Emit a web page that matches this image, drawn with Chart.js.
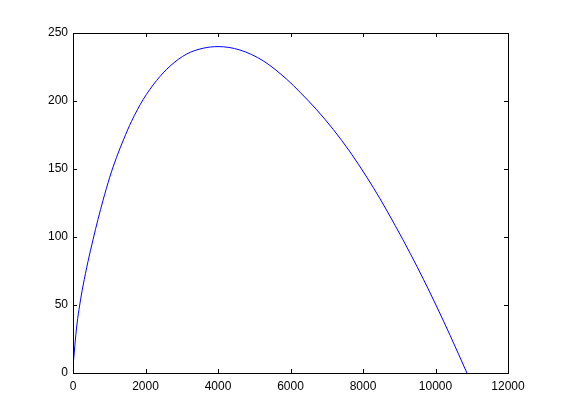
<!DOCTYPE html>
<html>
<head>
<meta charset="utf-8">
<script src="https://cdn.jsdelivr.net/npm/chart.js@4"></script>
<style>
  html, body { margin: 0; padding: 0; background: #fff; }
  #wrap { width: 561px; height: 420px; }
</style>
</head>
<body>
<div id="wrap"><canvas id="myChart" width="561" height="420"></canvas></div>
<script>
const xValues = [15, 50, 110, 185, 276, 414, 552, 690, 829, 1014, 1200, 1400, 1613, 1934, 2304, 2671, 3133, 3591, 4000, 4605, 5249, 5895, 6262, 6724, 7182, 7644, 8105, 8472, 8887, 9301, 9669, 10039, 10406, 10867];
const yValues = [9, 20, 36, 50, 64, 82, 98, 113, 127, 144, 158.5, 172, 185, 201, 215, 225.5, 234.5, 238.8, 240, 237.5, 229.5, 216, 206.5, 193.5, 179, 162.5, 144, 128, 108.5, 88, 68.8, 48.5, 27.5, 0];
const xTicks = [0, 2000, 4000, 6000, 8000, 10000, 12000];
const yTicks = [0, 50, 100, 150, 200, 250];

const points = xValues.map((x, i) => ({ x: x, y: yValues[i] }));

// box round the plot with inward ticks on all four sides
const boxTicks = {
  id: 'boxTicks',
  afterDraw(chart) {
    const { ctx, chartArea: a, scales } = chart;
    const len = 4;
    ctx.save();
    ctx.strokeStyle = '#000';
    ctx.lineWidth = 1;
    ctx.strokeRect(Math.round(a.left) + 0.5, Math.round(a.top) + 0.5,
      Math.round(a.right - a.left), Math.round(a.bottom - a.top));
    ctx.beginPath();
    xTicks.forEach(v => {
      const px = Math.round(scales.x.getPixelForValue(v)) + 0.5;
      ctx.moveTo(px, a.bottom); ctx.lineTo(px, a.bottom - len);
      ctx.moveTo(px, a.top); ctx.lineTo(px, a.top + len);
    });
    yTicks.forEach(v => {
      const py = Math.round(scales.y.getPixelForValue(v)) + 0.5;
      ctx.moveTo(a.left, py); ctx.lineTo(a.left + len, py);
      ctx.moveTo(a.right, py); ctx.lineTo(a.right - len, py);
    });
    ctx.stroke();
    ctx.restore();
  }
};

const ctx = document.getElementById('myChart');

new Chart(ctx, {
  type: 'line',
  data: {
    datasets: [
      {
        data: points,
        borderColor: '#0000ff',
        borderWidth: 1,
        pointRadius: 0,
        fill: false,
        cubicInterpolationMode: 'monotone',
      },
    ],
  },
  options: {
    responsive: false,
    animation: false,
    layout: { padding: { top: 33, right: 53, left: 0, bottom: 0 } },
    plugins: { legend: { display: false }, tooltip: { enabled: false } },
    scales: {
      x: {
        type: 'linear',
        min: 0,
        max: 12000,
        afterBuildTicks: (s) => { s.ticks = xTicks.map(v => ({ value: v })); },
        afterFit: (s) => { s.height = 47; },
        grid: { display: false, drawTicks: false },
        border: { display: false },
        ticks: {
          padding: 6,
          maxRotation: 0,
          color: '#000',
          font: { family: 'Liberation Sans, Arial', size: 12 },
          callback: (v) => String(v),
        },
      },
      y: {
        min: 0,
        max: 250,
        afterBuildTicks: (s) => { s.ticks = yTicks.map(v => ({ value: v })); },
        afterFit: (s) => { s.width = 73; },
        grid: { display: false, drawTicks: false },
        border: { display: false },
        ticks: {
          padding: 5,
          color: '#000',
          font: { family: 'Liberation Sans, Arial', size: 12 },
          callback: (v) => String(v),
        },
      },
    },
  },
  plugins: [boxTicks],
});
</script>
</body>
</html>
